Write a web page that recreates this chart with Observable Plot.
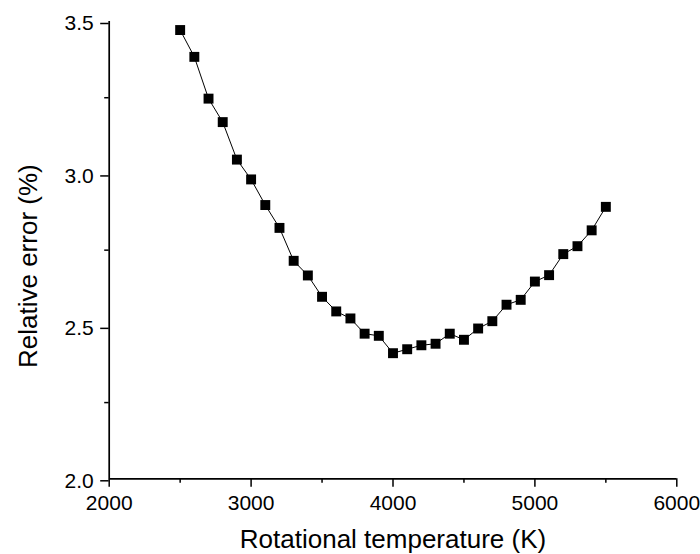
<!DOCTYPE html>
<html>
<head>
<meta charset="utf-8">
<script src="https://cdn.jsdelivr.net/npm/d3@7"></script>
<script src="https://cdn.jsdelivr.net/npm/@observablehq/plot@0.6"></script>
<style>
  html, body { margin: 0; padding: 0; background: #fff; }
  #chart svg { font-family: "Liberation Sans", Arial, sans-serif !important; }
</style>
</head>
<body>
<div id="chart"></div>
<script>
const temperature = [2500, 2600, 2700, 2800, 2900, 3000, 3100, 3200, 3300, 3400, 3500,
  3600, 3700, 3800, 3900, 4000, 4100, 4200, 4300, 4400, 4500,
  4600, 4700, 4800, 4900, 5000, 5100, 5200, 5300, 5400, 5500];
const relError = [3.472, 3.384, 3.247, 3.170, 3.047, 2.982, 2.898, 2.823, 2.715, 2.667, 2.597,
  2.549, 2.526, 2.476, 2.469, 2.412, 2.425, 2.438, 2.443, 2.476, 2.456,
  2.493, 2.517, 2.571, 2.587, 2.647, 2.668, 2.737, 2.763, 2.815, 2.892];
const xTicks = [2000, 3000, 4000, 5000, 6000];
const xMinorTicks = [2500, 3500, 4500, 5500];
const yTicks = [2.0, 2.5, 3.0, 3.5];
const yMinorTicks = [2.25, 2.75, 3.25];
const xTitle = "Rotational temperature (K)";
const yTitle = "Relative error (%)";

const data = temperature.map((t, i) => ({t, e: relError[i]}));

const chart = Plot.plot({
  width: 700,
  height: 554,
  marginLeft: 108.7,
  marginRight: 23.7,
  marginTop: 21,
  marginBottom: 75.7,
  style: {fontFamily: "'Liberation Sans', Arial, sans-serif", color: "#000", background: "#fff"},
  x: {domain: [2000, 6000]},
  y: {domain: [2.0, 3.5]},
  marks: [
    Plot.axisX({ticks: xTicks, tickSize: 8.5, tickPadding: 8, strokeWidth: 1.5, fontSize: 21, tickFormat: d => String(d), label: null}),
    Plot.axisX({ticks: xMinorTicks, tickSize: 4.5, strokeWidth: 1.5, text: null, label: null}),
    Plot.axisY({ticks: yTicks, tickSize: 8.5, tickPadding: 7, strokeWidth: 1.5, fontSize: 21, dy: 2, tickFormat: d3.format(".1f"), label: null}),
    Plot.axisY({ticks: yMinorTicks, tickSize: 4.5, strokeWidth: 1.5, text: null, label: null}),
    Plot.ruleX([2000], {stroke: "#000", strokeWidth: 1.7}),
    Plot.ruleY([2.0], {stroke: "#000", strokeWidth: 1.7}),
    Plot.text([xTitle], {frameAnchor: "bottom", textAnchor: "middle", lineAnchor: "middle", dy: 60.5, fontSize: 26, fill: "#000"}),
    Plot.text([yTitle], {frameAnchor: "left", textAnchor: "middle", lineAnchor: "middle", rotate: -90, dx: -81, dy: 16, fontSize: 26, fill: "#000"}),
    Plot.line(data, {x: "t", y: "e", stroke: "#000", strokeWidth: 1}),
    Plot.dot(data, {x: "t", y: "e", symbol: "square", r: 5.6, fill: "#000", stroke: "none"})
  ]
});
document.getElementById("chart").appendChild(chart);
</script>
</body>
</html>
